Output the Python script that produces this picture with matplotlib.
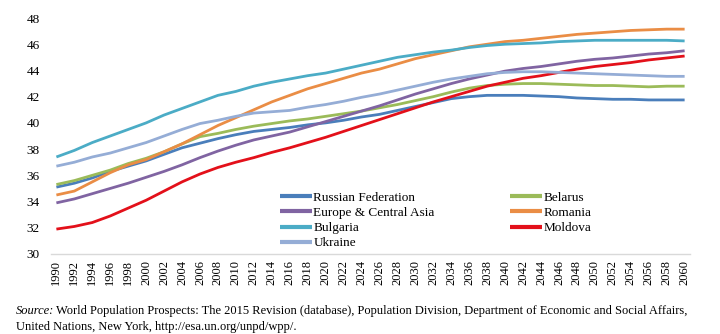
import matplotlib
matplotlib.use('Agg')
import matplotlib.pyplot as plt
import numpy as np

plt.rcParams['font.family'] = ['Liberation Serif', 'DejaVu Serif']

years = np.arange(1990, 2061, 2)

russia = [35.1, 35.4, 35.8, 36.3, 36.7, 37.1, 37.6, 38.1, 38.45, 38.8,
          39.1, 39.35, 39.5, 39.65, 39.85, 40.0, 40.2, 40.45, 40.65, 40.95,
          41.25, 41.55, 41.85, 42.0, 42.1, 42.1, 42.1, 42.05, 42.0, 41.9,
          41.85, 41.8, 41.8, 41.75, 41.75, 41.75]
belarus = [35.3, 35.6, 36.0, 36.4, 36.9, 37.3, 37.8, 38.4, 38.95, 39.2,
           39.5, 39.75, 39.95, 40.15, 40.3, 40.5, 40.7, 40.9, 41.15, 41.4,
           41.7, 42.0, 42.35, 42.65, 42.85, 42.95, 43.0, 43.0, 42.95, 42.9,
           42.85, 42.85, 42.8, 42.75, 42.8, 42.8]
europe = [33.9, 34.2, 34.6, 35.0, 35.4, 35.85, 36.3, 36.8, 37.35, 37.85,
          38.3, 38.7, 39.0, 39.3, 39.7, 40.1, 40.5, 40.9, 41.3, 41.75,
          42.2, 42.6, 43.0, 43.35, 43.65, 43.95, 44.15, 44.3, 44.5, 44.7,
          44.85, 44.95, 45.1, 45.25, 45.35, 45.5]
romania = [34.5, 34.8, 35.5, 36.2, 36.8, 37.2, 37.8, 38.4, 39.1, 39.8,
           40.4, 41.0, 41.6, 42.1, 42.6, 43.0, 43.4, 43.8, 44.1, 44.5,
           44.9, 45.2, 45.5, 45.8, 46.0, 46.2, 46.3, 46.45, 46.6, 46.75,
           46.85, 46.95, 47.05, 47.1, 47.15, 47.15]
bulgaria = [37.4, 37.9, 38.5, 39.0, 39.5, 40.0, 40.6, 41.1, 41.6, 42.1,
            42.4, 42.8, 43.1, 43.35, 43.6, 43.8, 44.1, 44.4, 44.7, 45.0,
            45.2, 45.4, 45.55, 45.75, 45.9, 46.0, 46.05, 46.1, 46.2, 46.25,
            46.3, 46.3, 46.3, 46.3, 46.3, 46.25]
moldova = [31.9, 32.1, 32.4, 32.9, 33.5, 34.1, 34.8, 35.5, 36.1, 36.6,
           37.0, 37.35, 37.75, 38.1, 38.5, 38.9, 39.35, 39.8, 40.25, 40.7,
           41.15, 41.6, 42.0, 42.4, 42.8, 43.1, 43.4, 43.6, 43.85, 44.1,
           44.3, 44.45, 44.6, 44.8, 44.95, 45.1]
ukraine = [36.7, 37.0, 37.4, 37.7, 38.1, 38.5, 39.0, 39.5, 39.95, 40.2,
           40.5, 40.75, 40.85, 40.95, 41.2, 41.4, 41.65, 41.95, 42.2, 42.5,
           42.8, 43.1, 43.35, 43.55, 43.75, 43.85, 43.9, 43.9, 43.85, 43.8,
           43.75, 43.7, 43.65, 43.6, 43.55, 43.55]

series = [
    ('Russian Federation', russia, '#4a7ebb'),
    ('Belarus', belarus, '#9bbb59'),
    ('Europe & Central Asia', europe, '#8064a2'),
    ('Romania', romania, '#ea8d45'),
    ('Bulgaria', bulgaria, '#4bacc6'),
    ('Moldova', moldova, '#e3101a'),
    ('Ukraine', ukraine, '#95add6'),
]

fig = plt.figure(figsize=(7.2, 3.34), dpi=100)
ax = fig.add_axes([51 / 720, 1 - 254 / 334, 639 / 720, 236 / 334])

lines = {}
for name, vals, col in series:
    ln, = ax.plot(years, vals, color=col, linewidth=2.0, solid_capstyle='butt')
    lines[name] = ln

ax.set_xlim(1989.4, 2060.6)
ax.set_ylim(30, 48)
ax.set_yticks(np.arange(30, 49, 2))
ax.set_xticks(years)
ax.set_xticklabels([str(y) for y in years], rotation=90, fontsize=9)
ax.tick_params(axis='y', length=0, labelsize=9.5, pad=8)
ax.tick_params(axis='x', length=0, pad=4)

for side in ['top', 'right', 'left']:
    ax.spines[side].set_visible(False)
ax.spines['bottom'].set_color('#d9d9d9')
ax.spines['bottom'].set_linewidth(1.0)

# legend fills column by column: left column first
order = ['Russian Federation', 'Europe & Central Asia', 'Bulgaria', 'Ukraine',
         'Belarus', 'Romania', 'Moldova']
leg = ax.legend([lines[n] for n in order], order, ncol=2, frameon=False,
                loc='lower left', bbox_to_anchor=(0.344, -0.02),
                fontsize=9.5, handlelength=2.45, handletextpad=0.08,
                columnspacing=5.7, labelspacing=0.23, borderpad=0.2)
for h in leg.get_lines():
    h.set_linewidth(3.0)

# source note with italic lead-in
src = fig.text(16 / 720, 1 - 311 / 334, 'Source:', fontsize=9, style='italic',
               va='center', ha='left')
fig.canvas.draw()
bb = src.get_window_extent(renderer=fig.canvas.get_renderer())
x1 = bb.x1 / fig.bbox.width
fig.text(x1 + 2 / 720, 1 - 311 / 334,
         'World Population Prospects: The 2015 Revision (database), Population Division, '
         'Department of Economic and Social Affairs,',
         fontsize=9, va='center', ha='left')
fig.text(16 / 720, 1 - 327 / 334,
         'United Nations, New York, http://esa.un.org/unpd/wpp/.',
         fontsize=9, va='center', ha='left')

fig.savefig('out.png', dpi=100, facecolor='white')
